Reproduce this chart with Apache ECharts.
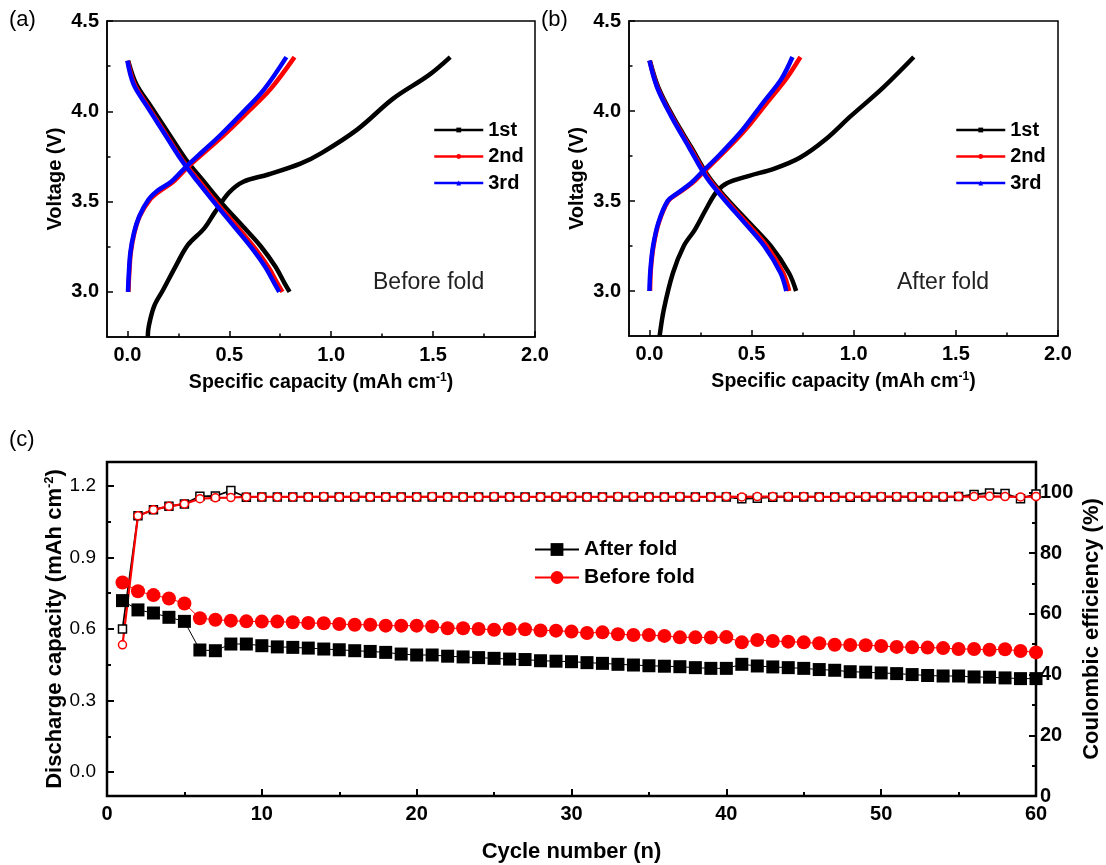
<!DOCTYPE html>
<html>
<head>
<meta charset="utf-8">
<script src="https://cdn.jsdelivr.net/npm/echarts@6/dist/echarts.min.js"></script>
<style>
  html, body { margin: 0; padding: 0; background: #fff; }
  #chart { width: 1106px; height: 865px; }
</style>
</head>
<body>
<div id="chart"></div>
<script>
// ---- Charge / discharge profiles, before fold: [capacity (mAh cm-1), voltage (V)] ----
const aCharge1 = [[0.10,2.75],[0.105,2.81],[0.131,2.92],[0.175,3.01],[0.236,3.14],[0.297,3.26],[0.376,3.35],[0.429,3.44],[0.499,3.55],[0.569,3.61],[0.691,3.65],[0.849,3.71],[0.954,3.77],[1.129,3.90],[1.304,4.07],[1.479,4.20],[1.584,4.30]];
const aDischarge1 = [[0.004,4.28],[0.044,4.15],[0.114,4.03],[0.201,3.88],[0.289,3.73],[0.376,3.61],[0.464,3.49],[0.569,3.36],[0.656,3.25],[0.726,3.14],[0.770,3.05],[0.796,3.00]];
const aCharge2 = [[0.005,3.00],[0.009,3.10],[0.017,3.22],[0.035,3.33],[0.061,3.42],[0.110,3.51],[0.155,3.555],[0.225,3.61],[0.295,3.69],[0.385,3.78],[0.475,3.87],[0.585,3.99],[0.700,4.12],[0.820,4.30]];
const aDischarge2 = [[0.002,4.28],[0.035,4.15],[0.100,4.03],[0.185,3.88],[0.270,3.73],[0.355,3.61],[0.440,3.49],[0.540,3.36],[0.620,3.25],[0.690,3.14],[0.735,3.05],[0.761,3.00]];
const aCharge3 = [[0.003,3.00],[0.007,3.10],[0.015,3.22],[0.033,3.33],[0.059,3.42],[0.103,3.51],[0.147,3.56],[0.215,3.61],[0.285,3.69],[0.372,3.78],[0.458,3.87],[0.563,3.99],[0.670,4.12],[0.780,4.30]];
const aDischarge3 = [[0.000,4.28],[0.030,4.15],[0.095,4.03],[0.180,3.88],[0.265,3.73],[0.345,3.61],[0.430,3.49],[0.525,3.36],[0.605,3.25],[0.675,3.14],[0.720,3.05],[0.745,3.00]];

// ---- Charge / discharge profiles, after fold ----
const bCharge1 = [[0.050,2.75],[0.071,2.90],[0.115,3.10],[0.168,3.25],[0.222,3.34],[0.275,3.45],[0.328,3.55],[0.381,3.60],[0.488,3.64],[0.612,3.68],[0.736,3.74],[0.860,3.84],[0.984,3.97],[1.144,4.13],[1.294,4.30]];
const bDischarge1 = [[0.002,4.28],[0.044,4.13],[0.115,3.97],[0.204,3.80],[0.293,3.63],[0.381,3.51],[0.488,3.38],[0.594,3.25],[0.683,3.10],[0.718,3.00]];
const bCharge2 = [[0.003,3.00],[0.007,3.12],[0.020,3.25],[0.046,3.38],[0.092,3.50],[0.137,3.54],[0.210,3.60],[0.264,3.66],[0.355,3.76],[0.465,3.89],[0.578,4.05],[0.670,4.18],[0.739,4.30]];
const bDischarge2 = [[0.001,4.28],[0.040,4.13],[0.110,3.97],[0.198,3.80],[0.287,3.63],[0.372,3.51],[0.475,3.38],[0.575,3.25],[0.655,3.10],[0.684,3.00]];
const bCharge3 = [[0.000,3.00],[0.005,3.12],[0.018,3.25],[0.044,3.38],[0.089,3.50],[0.133,3.54],[0.204,3.60],[0.257,3.66],[0.346,3.76],[0.452,3.89],[0.559,4.05],[0.647,4.18],[0.700,4.30]];
const bDischarge3 = [[0.000,4.28],[0.038,4.13],[0.107,3.97],[0.193,3.80],[0.280,3.63],[0.365,3.51],[0.465,3.38],[0.562,3.25],[0.642,3.10],[0.670,3.00]];

const cycleNames = ['1st', '2nd', '3rd'];
const cycleColors = ['#000000', '#ff0000', '#0000ff'];
const cycleSymbols = ['rect', 'circle', 'triangle'];

// ---- Cycling performance ----
const cycles = [1,2,3,4,5,6,7,8,9,10,11,12,13,14,15,16,17,18,19,20,21,22,23,24,25,26,27,28,29,30,
                31,32,33,34,35,36,37,38,39,40,41,42,43,44,45,46,47,48,49,50,51,52,53,54,55,56,57,58,59,60];
const afterCap = [0.719,0.680,0.667,0.649,0.632,0.512,0.509,0.537,0.537,0.530,0.525,0.523,0.520,0.516,0.513,
                  0.509,0.506,0.502,0.495,0.491,0.491,0.486,0.483,0.480,0.477,0.474,0.472,0.467,0.465,0.463,
                  0.459,0.456,0.452,0.449,0.446,0.444,0.442,0.438,0.435,0.435,0.452,0.445,0.441,0.438,0.435,
                  0.430,0.427,0.421,0.419,0.416,0.413,0.409,0.405,0.403,0.403,0.399,0.398,0.395,0.392,0.392];
const beforeCap = [0.795,0.758,0.742,0.728,0.707,0.645,0.639,0.635,0.632,0.631,0.631,0.628,0.625,0.624,0.621,
                   0.618,0.618,0.614,0.614,0.614,0.611,0.603,0.603,0.600,0.597,0.600,0.599,0.594,0.593,0.589,
                   0.583,0.586,0.578,0.575,0.575,0.571,0.565,0.565,0.564,0.566,0.544,0.554,0.550,0.547,0.544,
                   0.540,0.534,0.533,0.532,0.529,0.525,0.523,0.522,0.520,0.516,0.516,0.513,0.515,0.508,0.502];
const afterCE = [55.0,92.3,94.3,95.4,96.2,98.7,98.8,100.6,98.4,98.5,98.5,98.5,98.5,98.5,98.5,
                 98.5,98.5,98.5,98.5,98.5,98.5,98.5,98.5,98.5,98.5,98.5,98.5,98.5,98.5,98.5,
                 98.5,98.5,98.5,98.5,98.5,98.5,98.5,98.5,98.5,98.5,97.9,98.1,98.4,98.5,98.5,
                 98.5,98.5,98.4,98.5,98.5,98.5,98.5,98.5,98.5,98.6,99.3,99.8,99.6,97.9,99.5];
const beforeCE = [49.8,92.3,94.3,95.4,96.2,97.9,98.2,98.3,98.5,98.5,98.5,98.5,98.5,98.6,98.5,
                  98.6,98.5,98.5,98.5,98.5,98.6,98.5,98.5,98.5,98.6,98.5,98.5,98.5,98.6,98.6,
                  98.5,98.5,98.6,98.6,98.5,98.5,98.6,98.5,98.5,98.6,98.5,98.6,98.6,98.6,98.6,
                  98.5,98.5,98.6,98.6,98.6,98.6,98.6,98.6,98.6,98.6,98.6,98.7,98.6,98.5,98.6];

// tick positions
const capMajor = [0, 0.5, 1.0, 1.5, 2.0];
const capMinor = [0.25, 0.75, 1.25, 1.75];
const voltMajor = [3.0, 3.5, 4.0, 4.5];
const voltMinor = [3.25, 3.75, 4.25];
const dischMajor = [0, 0.3, 0.6, 0.9, 1.2];
const dischMinor = [0.15, 0.45, 0.75, 1.05];
const ceMajor = [0, 20, 40, 60, 80, 100];
const ceMinor = [10, 30, 50, 70, 90];

const FONT = 'Arial, "Liberation Sans", Helvetica, sans-serif';

function majorAxis(gridIndex, min, max, ticks, opts) {
  return Object.assign({
    type: 'value', gridIndex, min, max, nameMoveOverlap: false,
    axisLine: { show: true, onZero: false, lineStyle: { color: '#000', width: 1.5 } },
    axisTick: { show: true, inside: true, length: 6, customValues: ticks, lineStyle: { color: '#000', width: 1.5 } },
    axisLabel: { customValues: ticks, color: '#000', fontFamily: FONT, fontWeight: 'bold', fontSize: 20, margin: 8,
                 formatter: v => v.toFixed(1) },
    splitLine: { show: false }
  }, opts);
}
function minorAxis(gridIndex, min, max, ticks, opts) {
  return Object.assign({
    type: 'value', gridIndex, min, max,
    axisLine: { show: false, onZero: false },
    axisTick: { show: true, inside: true, length: 3.5, customValues: ticks, lineStyle: { color: '#000', width: 1.5 } },
    axisLabel: { show: false },
    splitLine: { show: false }
  }, opts);
}
const capName = '{b|Specific capacity (mAh cm}{s|-1}{b|)}';
const capNameStyle = { rich: {
  b: { fontFamily: FONT, fontWeight: 'bold', fontSize: 19.5, color: '#000' },
  s: { fontFamily: FONT, fontWeight: 'bold', fontSize: 12, color: '#000', padding: [0, 0, 10, 0] }
} };
const voltNameStyle = { fontFamily: FONT, fontWeight: 'bold', fontSize: 20, color: '#000' };

const xAxes = [
  majorAxis(0, -0.1, 2.0, capMajor, { position: 'bottom', name: capName, nameLocation: 'middle', nameGap: 35, nameTextStyle: capNameStyle }),
  minorAxis(0, -0.1, 2.0, capMinor, { position: 'bottom' }),
  majorAxis(1, -0.1, 2.0, capMajor, { position: 'bottom', name: capName, nameLocation: 'middle', nameGap: 35, nameTextStyle: capNameStyle }),
  minorAxis(1, -0.1, 2.0, capMinor, { position: 'bottom' }),
  {
    type: 'value', gridIndex: 2, min: 0, max: 60, interval: 10, position: 'bottom', nameMoveOverlap: false,
    name: 'Cycle number (n)', nameLocation: 'middle', nameGap: 45,
    nameTextStyle: { fontFamily: FONT, fontWeight: 'bold', fontSize: 22, color: '#000' },
    axisLine: { show: true, onZero: false, lineStyle: { color: '#000', width: 2 } },
    axisTick: { show: true, inside: true, length: 7, lineStyle: { color: '#000', width: 2 } },
    minorTick: { show: true, splitNumber: 2, length: 4, lineStyle: { color: '#000', width: 2 } },
    axisLabel: { color: '#000', fontFamily: FONT, fontWeight: 'bold', fontSize: 20, margin: 8 },
    splitLine: { show: false }, minorSplitLine: { show: false }
  }
];
const yAxes = [
  majorAxis(0, 2.75, 4.5, voltMajor, { position: 'left', name: 'Voltage (V)', nameLocation: 'middle', nameGap: 42, nameRotate: 90, nameTextStyle: voltNameStyle }),
  minorAxis(0, 2.75, 4.5, voltMinor, { position: 'left' }),
  majorAxis(1, 2.75, 4.5, voltMajor, { position: 'left', name: 'Voltage (V)', nameLocation: 'middle', nameGap: 42, nameRotate: 90, nameTextStyle: voltNameStyle }),
  minorAxis(1, 2.75, 4.5, voltMinor, { position: 'left' }),
  majorAxis(2, -0.1, 1.3, dischMajor, {
    position: 'left',
    name: '{b|Discharge capacity (mAh cm}{s|-2}{b|)}', nameLocation: 'middle', nameGap: 40, nameRotate: 90,
    nameTextStyle: { rich: {
      b: { fontFamily: FONT, fontWeight: 'bold', fontSize: 22, color: '#000' },
      s: { fontFamily: FONT, fontWeight: 'bold', fontSize: 13, color: '#000', padding: [0, 0, 11, 0] }
    } },
    axisLine: { show: true, onZero: false, lineStyle: { color: '#000', width: 2 } },
    axisTick: { show: true, inside: true, length: 7, customValues: dischMajor, lineStyle: { color: '#000', width: 2 } },
    axisLabel: { customValues: dischMajor, color: '#000', fontFamily: FONT, fontWeight: 'normal', fontSize: 19, margin: 11,
                 formatter: v => v.toFixed(1) }
  }),
  minorAxis(2, -0.1, 1.3, dischMinor, { position: 'left',
    axisTick: { show: true, inside: true, length: 4, customValues: dischMinor, lineStyle: { color: '#000', width: 2 } } }),
  majorAxis(2, 0, 110, ceMajor, {
    position: 'right',
    name: 'Coulombic efficiency (%)', nameLocation: 'middle', nameGap: 45, nameRotate: 90,
    nameTextStyle: { fontFamily: FONT, fontWeight: 'bold', fontSize: 22, color: '#000' },
    axisLine: { show: true, onZero: false, lineStyle: { color: '#000', width: 2 } },
    axisTick: { show: true, inside: true, length: 7, customValues: ceMajor, lineStyle: { color: '#000', width: 2 } },
    axisLabel: { customValues: ceMajor, color: '#000', fontFamily: FONT, fontWeight: 'bold', fontSize: 20, margin: 4,
                 formatter: v => String(v) }
  }),
  minorAxis(2, 0, 110, ceMinor, { position: 'right',
    axisTick: { show: true, inside: true, length: 4, customValues: ceMinor, lineStyle: { color: '#000', width: 2 } } })
];

function profile(name, idx, data, xi, yi) {
  return {
    type: 'line', name, xAxisIndex: xi, yAxisIndex: yi, data,
    smooth: 0.35, showSymbol: false, symbol: cycleSymbols[idx], symbolSize: 5,
    itemStyle: { color: cycleColors[idx] },
    lineStyle: { color: cycleColors[idx], width: 4.5 },
    clip: true, silent: true, animation: false
  };
}

const series = [
  profile('1st', 0, aCharge1, 0, 0), profile('1st', 0, aDischarge1, 0, 0),
  profile('2nd', 1, aCharge2, 0, 0), profile('2nd', 1, aDischarge2, 0, 0),
  profile('3rd', 2, aCharge3, 0, 0), profile('3rd', 2, aDischarge3, 0, 0),
  profile('1st', 0, bCharge1, 2, 2), profile('1st', 0, bDischarge1, 2, 2),
  profile('2nd', 1, bCharge2, 2, 2), profile('2nd', 1, bDischarge2, 2, 2),
  profile('3rd', 2, bCharge3, 2, 2), profile('3rd', 2, bDischarge3, 2, 2),
  {
    type: 'line', name: 'After fold CE', xAxisIndex: 4, yAxisIndex: 6,
    data: cycles.map((c, i) => [c, afterCE[i]]),
    symbol: 'rect', symbolSize: 8,
    itemStyle: { color: '#fff', borderColor: '#000', borderWidth: 1.5 },
    lineStyle: { color: '#000', width: 1.8 }, animation: false
  },
  {
    type: 'line', name: 'Before fold CE', xAxisIndex: 4, yAxisIndex: 6,
    data: cycles.map((c, i) => [c, beforeCE[i]]),
    symbol: 'circle', symbolSize: 8,
    itemStyle: { color: '#fff', borderColor: '#ff0000', borderWidth: 1.5 },
    lineStyle: { color: '#ff0000', width: 2.2 }, animation: false
  },
  {
    type: 'line', name: 'After fold', xAxisIndex: 4, yAxisIndex: 4,
    data: cycles.map((c, i) => [c, afterCap[i]]),
    symbol: 'rect', symbolSize: 13,
    itemStyle: { color: '#000' },
    lineStyle: { color: '#000', width: 1 }, animation: false
  },
  {
    type: 'line', name: 'Before fold', xAxisIndex: 4, yAxisIndex: 4,
    data: cycles.map((c, i) => [c, beforeCap[i]]),
    symbol: 'circle', symbolSize: 14,
    itemStyle: { color: '#ff0000' },
    lineStyle: { color: '#ff0000', width: 1 }, animation: false
  }
];

const legendText = { fontFamily: FONT, fontWeight: 'bold', fontSize: 20, color: '#000', lineHeight: 20 };
const gridBase = { show: true, borderColor: '#000', containLabel: false, outerBoundsMode: 'none' };

const option = {
  backgroundColor: '#fff',
  animation: false,
  grid: [
    Object.assign({ left: 107, top: 21, width: 428, height: 316, borderWidth: 1.5 }, gridBase),
    Object.assign({ left: 629, top: 21, width: 429, height: 315, borderWidth: 1.5 }, gridBase),
    Object.assign({ left: 107, top: 462, width: 929, height: 334, borderWidth: 2.5 }, gridBase)
  ],
  xAxis: xAxes,
  yAxis: yAxes,
  legend: [
    {
      data: cycleNames, orient: 'vertical', left: 433, top: 120, padding: 0, itemWidth: 49, itemHeight: 6, itemGap: 6.5,
      textStyle: legendText, lineStyle: { width: 2.5 }, selectedMode: false
    },
    {
      data: cycleNames, orient: 'vertical', left: 955, top: 120, padding: 0, itemWidth: 49, itemHeight: 6, itemGap: 6.5,
      textStyle: legendText, lineStyle: { width: 2.5 }, selectedMode: false
    },
    {
      data: ['After fold', 'Before fold'], orient: 'vertical', left: 534, top: 539, padding: 0, itemWidth: 44, itemHeight: 16, itemGap: 7,
      textStyle: Object.assign({}, legendText, { fontSize: 21 }), selectedMode: false
    }
  ],
  title: [
    { text: '(a)', left: 9, top: 9, padding: 0, textStyle: { fontFamily: FONT, fontWeight: 'normal', fontSize: 22, color: '#000' } },
    { text: '(b)', left: 541, top: 9, padding: 0, textStyle: { fontFamily: FONT, fontWeight: 'normal', fontSize: 22, color: '#000' } },
    { text: '(c)', left: 9, top: 429, padding: 0, textStyle: { fontFamily: FONT, fontWeight: 'normal', fontSize: 22, color: '#000' } },
    { text: 'Before fold', left: 373, top: 271, padding: 0, textStyle: { fontFamily: FONT, fontWeight: 'normal', fontSize: 23, color: '#222' } },
    { text: 'After fold', left: 897, top: 271, padding: 0, textStyle: { fontFamily: FONT, fontWeight: 'normal', fontSize: 23, color: '#222' } }
  ],
  series
};

const chart = echarts.init(document.getElementById('chart'), null, { renderer: 'canvas' });
chart.setOption(option);
</script>
</body>
</html>
